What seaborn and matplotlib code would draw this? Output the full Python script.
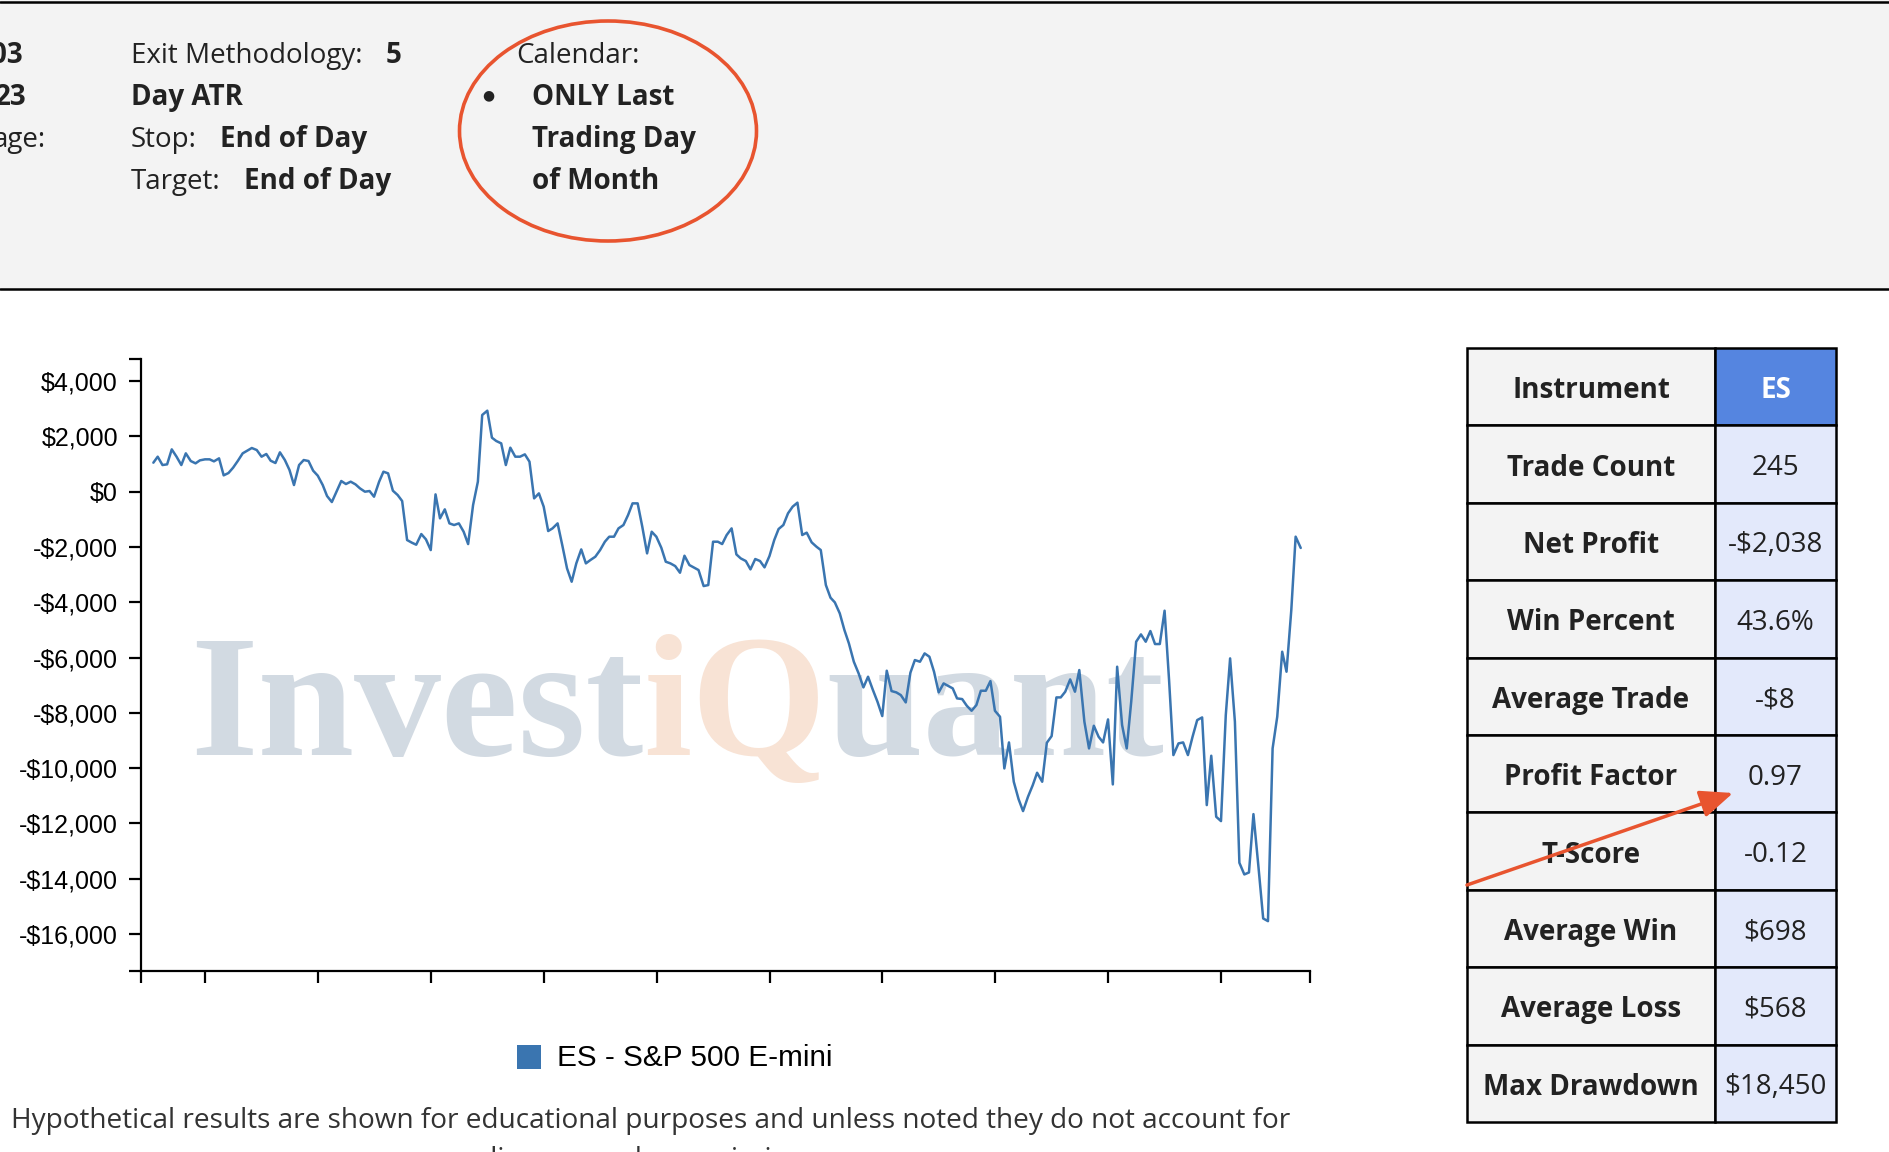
import numpy as np
import pandas as pd
import matplotlib
matplotlib.use("Agg")
import matplotlib.pyplot as plt
import matplotlib.ticker as mticker
from matplotlib.patches import Rectangle, Ellipse, FancyArrowPatch
from matplotlib.lines import Line2D
import seaborn as sns

# ---------------- data ----------------
equity = [
    1046, 1263, 961, 986, 1528, 1263, 961, 1384, 1106, 1022,
    1130, 1167, 1167, 1094, 1203, 588, 672, 865, 1106, 1384,
    1480, 1577, 1504, 1263, 1360, 1118, 1034, 1420, 1142, 781,
    238, 961, 1142, 1106, 757, 576, 238, -160, -377, -27,
    383, 274, 359, 262, 117, -3, 21, -184, 359, 720,
    660, 33, -124, -341, -1752, -1848, -1921, -1535, -1728, -2114,
    -100, -968, -642, -1149, -1209, -1149, -1451, -1897, -486, 359,
    2770, 2927, 1950, 1830, 1745, 961, 1589, 1263, 1263, 1347,
    1082, -245, -64, -546, -1426, -1330, -1149, -1933, -2777, -3260,
    -2596, -2090, -2596, -2476, -2355, -2114, -1812, -1631, -1631, -1330,
    -1209, -848, -425, -425, -1270, -2234, -1451, -1631, -2029, -2536,
    -2596, -2693, -2934, -2319, -2657, -2753, -2837, -3416, -3380, -1812,
    -1812, -1897, -1571, -1330, -2271, -2415, -2511, -2812, -2438, -2511,
    -2740, -2330, -1751, -1353, -1208, -786, -545, -400, -1570, -1485,
    -1835, -1992, -2113, -3379, -3837, -4006, -4404, -5007, -5489, -6153,
    -6575, -7081, -6695, -7154, -7600, -8118, -6478, -7214, -7262, -7359,
    -7624, -6551, -6092, -6153, -5851, -5972, -6515, -7262, -6937, -7021,
    -7117, -7479, -7503, -7745, -7926, -7721, -7202, -7202, -6852, -7926,
    -8143, -10012, -9071, -10494, -11121, -11555, -11037, -10615, -10168, -10494,
    -9083, -8842, -7443, -7443, -7238, -6792, -7238, -6454, -8323, -9288,
    -8468, -8866, -9071, -8239, -10590, -6333, -8444, -9288, -7600, -5429,
    -5164, -5429, -5043, -5513, -5513, -4307, -6816, -9529, -9107, -9071,
    -9529, -8866, -8263, -8167, -11338, -9553, -11760, -11917, -8082, -6032,
    -8323, -13424, -13846, -13774, -11664, -13605, -15438, -15535, -9288, -8142,
    -5791, -6514, -4283, -1630, -2038,
]
first_trade_month_end = "2003-01-31"
x_start = "2002-11-12"
x_end = "2023-07-30"
y_min, y_max = -17338, 4796
y_ticks = [4000, 2000, 0, -2000, -4000, -6000, -8000, -10000, -12000, -14000, -16000]
x_tick_years = [2004, 2006, 2008, 2010, 2012, 2014, 2016, 2018, 2020, 2022]
series_label = "ES - S&P 500 E-mini"

table_labels = ["Instrument", "Trade Count", "Net Profit", "Win Percent", "Average Trade",
                "Profit Factor", "T-Score", "Average Win", "Average Loss", "Max Drawdown"]
table_values = ["ES", "245", "-$2,038", "43.6%", "-$8", "0.97", "-0.12", "$698", "$568", "$18,450"]

footer_line1 = ("Hypothetical results are shown for educational purposes and unless noted "
                "they do not account for")
footer_line2 = "slippage and commissions."

# ---------------- style ----------------
sns.set_theme(style="white")
plt.rcParams["font.family"] = ["Open Sans", "DejaVu Sans"]

W, H = 1890, 1152
fig = plt.figure(figsize=(W / 100, H / 100), dpi=100)
fig.patch.set_facecolor("white")


def fx(px):
    return px / W


def fy(py):
    return 1 - py / H


line_color = "#3a75b0"
red = "#e8542f"
txt = "#222222"

# ---------------- header panel ----------------
fig.add_artist(Rectangle((0, fy(289)), 1, 289 / H, transform=fig.transFigure,
                         facecolor="#f3f3f3", edgecolor="none", zorder=0))
fig.add_artist(Line2D([0, 1], [fy(2), fy(2)], transform=fig.transFigure, color="black", lw=1.8))
fig.add_artist(Line2D([0, 1], [fy(289), fy(289)], transform=fig.transFigure, color="black", lw=1.8))

hs = 20
rows = [63, 105, 147, 189]
fig.text(fx(23), fy(rows[0]), "03", ha="right", va="baseline", fontsize=hs, fontweight="bold", color=txt)
fig.text(fx(27), fy(rows[1]), "23", ha="right", va="baseline", fontsize=hs, fontweight="bold", color=txt)
fig.text(fx(46), fy(rows[2]), "age:", ha="right", va="baseline", fontsize=hs, color=txt)

fig.text(fx(131), fy(rows[0]), "Exit Methodology:", va="baseline", fontsize=hs, color=txt)
fig.text(fx(386), fy(rows[0]), "5", va="baseline", fontsize=hs, fontweight="bold", color=txt)
fig.text(fx(131), fy(rows[1]), "Day ATR", va="baseline", fontsize=hs, fontweight="bold", color=txt)
fig.text(fx(131), fy(rows[2]), "Stop:", va="baseline", fontsize=hs, color=txt)
fig.text(fx(220), fy(rows[2]), "End of Day", va="baseline", fontsize=hs, fontweight="bold", color=txt)
fig.text(fx(131), fy(rows[3]), "Target:", va="baseline", fontsize=hs, color=txt)
fig.text(fx(244), fy(rows[3]), "End of Day", va="baseline", fontsize=hs, fontweight="bold", color=txt)

fig.text(fx(516), fy(rows[0]), "Calendar:", va="baseline", fontsize=hs, color=txt)
fig.text(fx(488), fy(rows[1] - 10), "\u25CF", ha="center", va="center", fontsize=10,
         fontfamily="DejaVu Sans", color=txt)
fig.text(fx(532), fy(rows[1]), "ONLY Last", va="baseline", fontsize=hs, fontweight="bold", color=txt)
fig.text(fx(532), fy(rows[2]), "Trading Day", va="baseline", fontsize=hs, fontweight="bold", color=txt)
fig.text(fx(532), fy(rows[3]), "of Month", va="baseline", fontsize=hs, fontweight="bold", color=txt)

fig.add_artist(Ellipse((fx(608), fy(131)), 297 / W, 220 / H, transform=fig.transFigure,
                       fill=False, edgecolor=red, lw=2.6, zorder=5))

# ---------------- chart ----------------
ax = fig.add_axes([fx(141), fy(971), fx(1310 - 141), (971 - 359) / H])
ax.set_facecolor("none")

try:
    dates = pd.date_range(start=first_trade_month_end, periods=len(equity), freq="BME")
except ValueError:
    dates = pd.date_range(start=first_trade_month_end, periods=len(equity), freq="BM")
df = pd.DataFrame({"date": dates, "equity": equity})

sns.lineplot(data=df, x="date", y="equity", ax=ax, color=line_color, linewidth=1.8, zorder=3)

ax.set_xlim(pd.Timestamp(x_start), pd.Timestamp(x_end))
ax.set_ylim(y_min, y_max)
ax.set_xlabel("")
ax.set_ylabel("")

ax.set_yticks(y_ticks)
ax.set_yticklabels([("-$" if v < 0 else "$") + f"{abs(v):,}" for v in y_ticks],
                   fontfamily="Liberation Sans", fontsize=18, color="black")
ax.set_xticks([pd.Timestamp(f"{y}-01-01") for y in x_tick_years])
ax.yaxis.set_minor_locator(mticker.FixedLocator(list(ax.get_ylim())))
ax.xaxis.set_minor_locator(mticker.FixedLocator(list(ax.get_xlim())))
ax.tick_params(which="both", bottom=True, left=True, top=False, right=False,
               direction="out", length=8.6, width=1.6, color="black", pad=8)
ax.tick_params(axis="x", which="both", labelbottom=False)
ax.tick_params(axis="y", which="minor", labelleft=False)
ax.set_xlim(pd.Timestamp(x_start), pd.Timestamp(x_end))
ax.set_ylim(y_min, y_max)
for s in ["top", "right"]:
    ax.spines[s].set_visible(False)
for s in ["left", "bottom"]:
    ax.spines[s].set_color("black")
    ax.spines[s].set_linewidth(1.6)
ax.grid(False)

# watermark
wm_kw = dict(transform=fig.transFigure, fontfamily="Liberation Serif", fontweight="bold",
             fontsize=125, va="baseline", ha="left", zorder=1, clip_on=False)
fig.canvas.draw()
renderer = fig.canvas.get_renderer()
x_cursor = fx(190)
for piece, col in [("Invest", "#d2dae2"), ("iQ", "#f8e3d5"), ("uant", "#d2dae2")]:
    t = ax.text(x_cursor, fy(755), piece, color=col, **wm_kw)
    bb = t.get_window_extent(renderer)
    x_cursor = bb.x1 / W

# legend
fig.add_artist(Rectangle((fx(517), fy(1069)), 24 / W, 24 / H, transform=fig.transFigure,
                         facecolor=line_color, edgecolor="none"))
fig.text(fx(557), fy(1058), series_label, va="center", fontfamily="Liberation Sans",
         fontsize=21.4, color="black")

# footer
fig.text(fx(11), fy(1128), footer_line1, va="baseline", fontsize=20.2, color="#333333")
fig.text(fx(651), fy(1167), footer_line2, ha="center", va="baseline", fontsize=20.2, color="#333333")

# ---------------- stats table ----------------
tl, tm, tr = 1467, 1715, 1836
top = 348
rh = (1122 - 348) / len(table_labels)
for i, (lab, val) in enumerate(zip(table_labels, table_values)):
    y0 = top + i * rh
    fig.add_artist(Rectangle((fx(tl), fy(y0 + rh)), (tm - tl) / W, rh / H, transform=fig.transFigure,
                             facecolor="#f3f3f3", edgecolor="black", lw=1.8, zorder=2))
    vcol = "#5585e0" if i == 0 else "#e3e9fb"
    fig.add_artist(Rectangle((fx(tm), fy(y0 + rh)), (tr - tm) / W, rh / H, transform=fig.transFigure,
                             facecolor=vcol, edgecolor="black", lw=1.8, zorder=2))
    fig.text(fx((tl + tm) / 2), fy(y0 + rh / 2 + 4), lab, ha="center", va="center",
             fontsize=20, fontweight="bold", color=txt, zorder=3)
    fig.text(fx((tm + tr) / 2), fy(y0 + rh / 2 + 4), val, ha="center", va="center",
             fontsize=20, fontweight="bold" if i == 0 else "normal",
             color="white" if i == 0 else txt, zorder=3)

# red arrow
fig.add_artist(FancyArrowPatch((fx(1467), fy(885)), (fx(1733), fy(793)), transform=fig.transFigure,
                               arrowstyle="-|>,head_length=1.0,head_width=0.42", mutation_scale=20,
                               shrinkA=0, shrinkB=0, color=red, lw=2.5, zorder=6))

fig.savefig("out.png", dpi=100)
